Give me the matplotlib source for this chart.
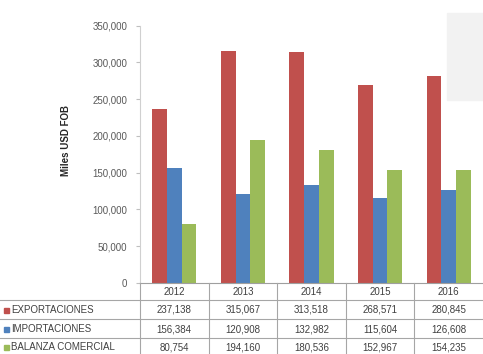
import numpy as np
import matplotlib.pyplot as plt
from matplotlib.lines import Line2D
from matplotlib.patches import Rectangle

years = ['2012', '2013', '2014', '2015', '2016']
series = ['EXPORTACIONES', 'IMPORTACIONES', 'BALANZA COMERCIAL']
exportaciones = [237138, 315067, 313518, 268571, 280845]
importaciones = [156384, 120908, 132982, 115604, 126608]
balanza = [80754, 194160, 180536, 152967, 154235]
yticks = [0, 50000, 100000, 150000, 200000, 250000, 300000, 350000]

colors = ['#C0504D', '#4F81BD', '#9BBB59']
values = [exportaciones, importaciones, balanza]

plt.rcParams['font.family'] = ['Liberation Sans', 'DejaVu Sans']

W, H = 483, 354
fig = plt.figure(figsize=(W / 100, H / 100), dpi=100)

# faint grey block in the top right corner
fig.patches.append(Rectangle((447 / W, 1 - 100 / H), 36 / W, 87 / H,
                             transform=fig.transFigure, color='#f2f2f2', zorder=0))

x0, x1 = 140, 483
ytop, ybot = 25.5, 283
ax = fig.add_axes([x0 / W, 1 - ybot / H, (x1 - x0) / W, (ybot - ytop) / H])
ax.patch.set_alpha(0)

x = np.arange(len(years))
bw = 0.215
for i, (vals, c) in enumerate(zip(values, colors)):
    ax.bar(x + (i - 1) * bw, vals, width=bw, color=c, zorder=2)

ax.set_xlim(-0.5, len(years) - 0.5)
ax.set_ylim(0, 350000)
ax.set_yticks(yticks)
ax.set_yticklabels([f'{v:,}' for v in yticks], fontsize=7, color='#595959')
ax.tick_params(axis='y', length=3, color='#bfbfbf', pad=6)
ax.set_xticks([])
for s in ['top', 'right']:
    ax.spines[s].set_visible(False)
ax.spines['left'].set_color('#d0d0d0')
ax.spines['bottom'].set_color('#9f9f9f')
ax.spines['left'].set_linewidth(0.8)
ax.spines['bottom'].set_linewidth(0.8)

fig.text(66 / W, 1 - 140 / H, 'Miles USD FOB', rotation=90, fontsize=7,
         fontweight='bold', ha='center', va='center', color='#262626')

# data table below the chart
row_y = [292, 310, 329, 347]
lines_y = [300, 319, 338]
col_edges = [x0 + k * (x1 - x0) / len(years) for k in range(len(years) + 1)]
line_col = '#a6a6a6'

for yy in lines_y:
    fig.add_artist(Line2D([0, 1], [1 - yy / H] * 2, color=line_col, lw=0.8))
for xe in col_edges[:-1]:
    fig.add_artist(Line2D([xe / W] * 2, [1 - ybot / H, 0], color=line_col, lw=0.8))

for j, yr in enumerate(years):
    cx = (col_edges[j] + col_edges[j + 1]) / 2
    fig.text(cx / W, 1 - row_y[0] / H, yr, fontsize=7, color='#404040',
             ha='center', va='center')
    for i, vals in enumerate(values):
        fig.text(cx / W, 1 - row_y[i + 1] / H, f'{vals[j]:,}', fontsize=7,
                 color='#404040', ha='center', va='center')

for i, (name, c) in enumerate(zip(series, colors)):
    yy = 1 - row_y[i + 1] / H
    fig.patches.append(Rectangle((4 / W, yy - 2.5 / H), 5 / W, 5 / H,
                                 transform=fig.transFigure, color=c))
    fig.text(11 / W, yy, name, fontsize=7, color='#404040', ha='left', va='center')

fig.savefig('out.png', dpi=100)
